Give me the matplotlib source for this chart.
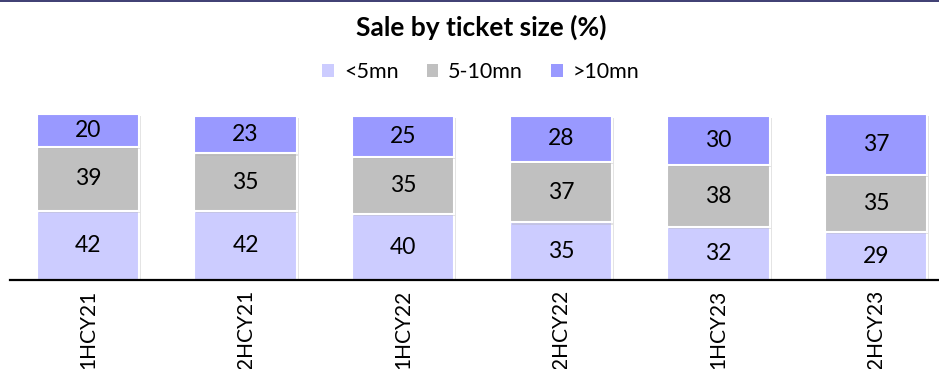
import numpy as np
import matplotlib.pyplot as plt
from matplotlib.patches import Patch
from matplotlib.lines import Line2D
import matplotlib.patheffects as pe

plt.rcParams['font.family'] = ['Lato', 'DejaVu Sans']

# data
periods = ['1HCY21', '2HCY21', '1HCY22', '2HCY22', '1HCY23', '2HCY23']
small = [42, 42, 40, 35, 32, 29]      # <5mn
mid = [39, 35, 35, 37, 38, 35]        # 5-10mn
large = [20, 23, 25, 28, 30, 37]      # >10mn

series_names = ['<5mn', '5-10mn', '>10mn']
colors = ['#CCCCFF', '#C0C0C0', '#9999FF']

fig = plt.figure(figsize=(9.39, 3.69), dpi=100)
ax = fig.add_axes([10 / 939, 89 / 369, 929 / 939, 166 / 369])

x = np.arange(len(periods))
shadow = [pe.SimplePatchShadow(offset=(1.5, -1.5), shadow_rgbFace='#b0b0b0', alpha=0.35), pe.Normal()]

bottom = np.zeros(len(periods))
for vals, col in zip([small, mid, large], colors):
    vals = np.array(vals, dtype=float)
    bars = ax.bar(x, vals, 0.65, bottom=bottom, color=col, edgecolor='white', linewidth=1.5, zorder=2)
    for b in bars:
        b.set_path_effects(shadow)
    for xi, v, b0 in zip(x, vals, bottom):
        ax.text(xi, b0 + v / 2, '%d' % v, ha='center', va='center', fontsize=16.5, color='black', zorder=3)
    bottom += vals

ax.set_xlim(-0.495, 5.40)
ax.set_ylim(0, 101)
ax.set_yticks([])
ax.set_xticks(x)
ax.set_xticklabels(periods, rotation=90, fontsize=15, va='top')
ax.tick_params(axis='x', length=0, pad=7)
for s in ['top', 'right', 'left']:
    ax.spines[s].set_visible(False)
ax.spines['bottom'].set_linewidth(1.6)
ax.spines['bottom'].set_color('black')
ax.spines['bottom'].set_zorder(4)

fig.text(0.512, 0.925, 'Sale by ticket size (%)', ha='center', va='center', fontsize=19, fontweight='bold')

handles = [Patch(facecolor=c, edgecolor='none') for c in colors]
fig.legend(handles, series_names, loc='center', bbox_to_anchor=(0.512, 0.805), ncol=3, frameon=False,
           fontsize=15.5, handlelength=0.55, handleheight=0.55, handletextpad=0.45, columnspacing=1.3)

# thin border line at the very top
fig.add_artist(Line2D([0, 1], [0.998, 0.998], color='#1c1c5a', linewidth=1.2))

fig.savefig('out.png', dpi=100)
